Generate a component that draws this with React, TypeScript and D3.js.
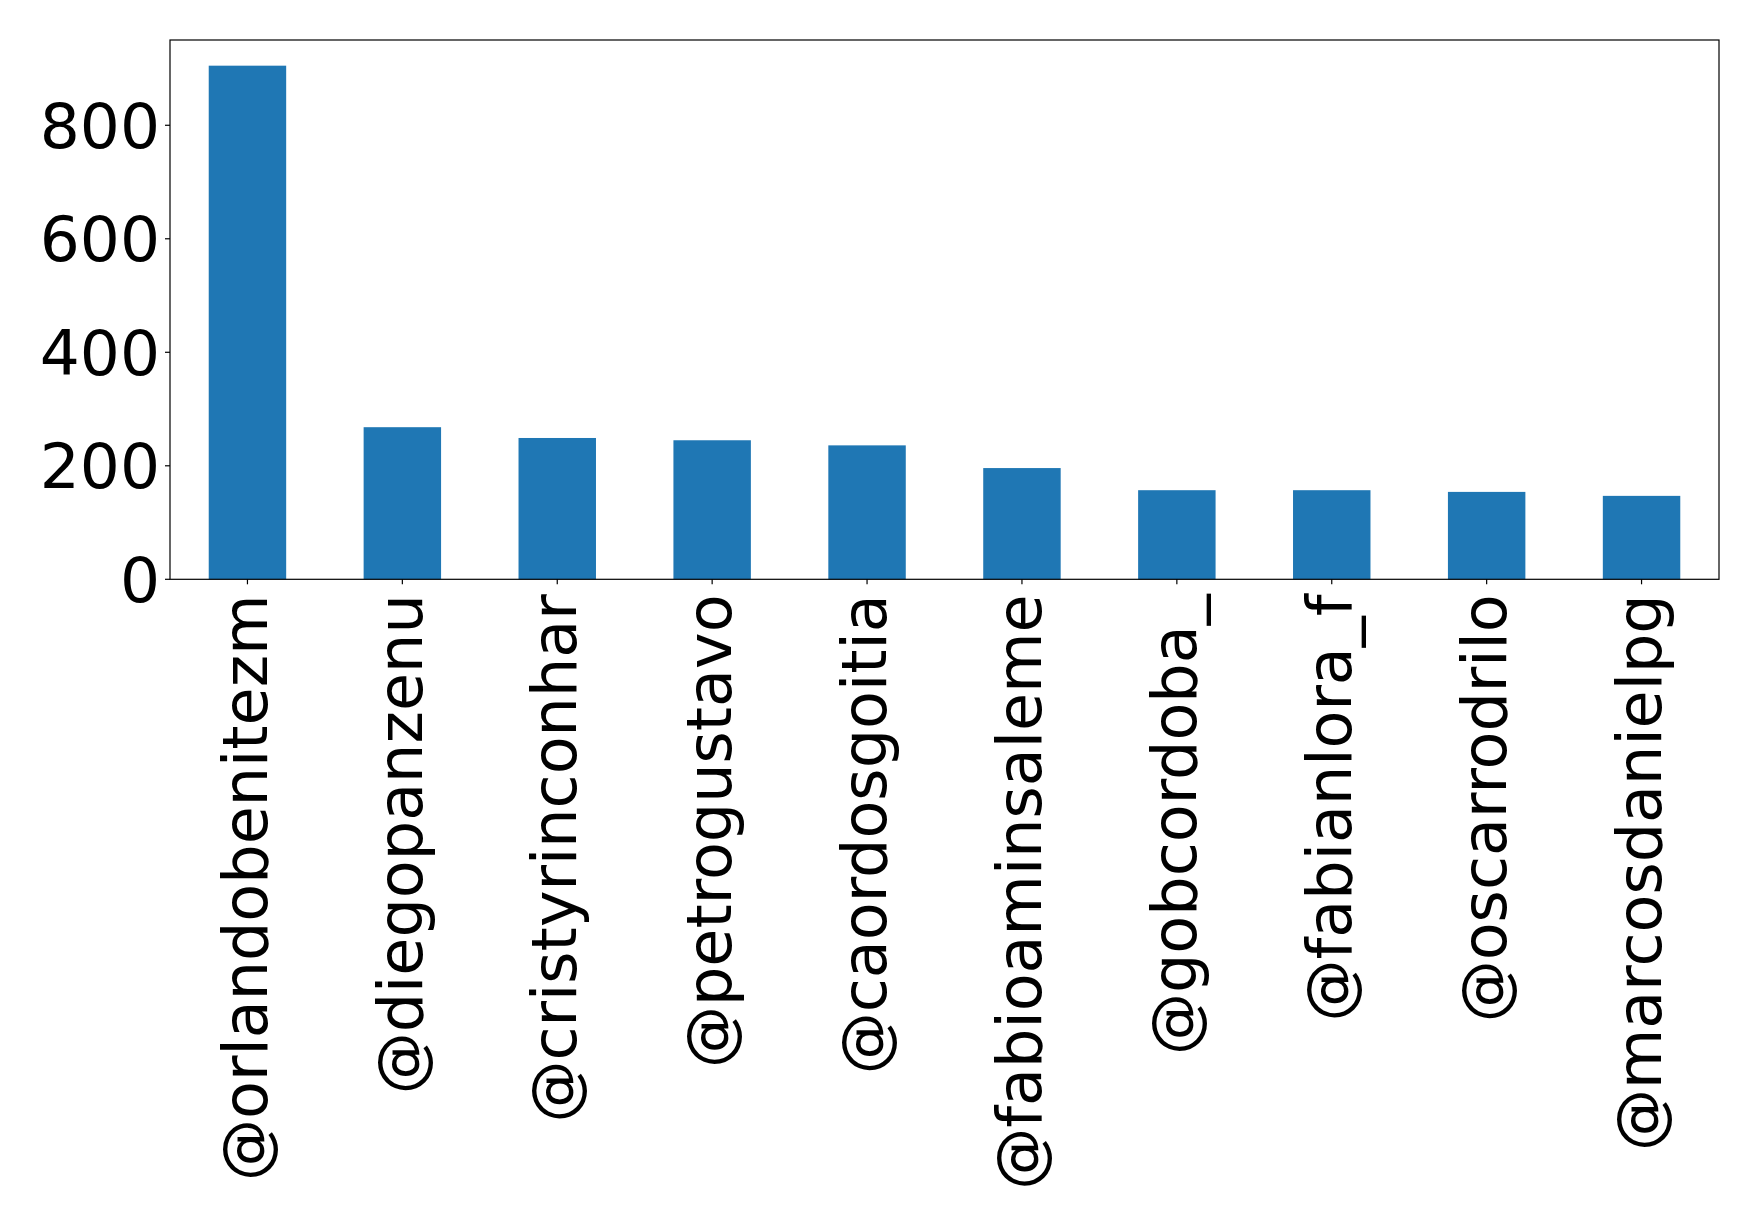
import React from "react";
import * as d3 from "d3";

const categories = [
  "@orlandobenitezm",
  "@diegopanzenu",
  "@cristyrinconhar",
  "@petrogustavo",
  "@caordosgoitia",
  "@fabioaminsaleme",
  "@gobcordoba_",
  "@fabianlora_f",
  "@oscarrodrilo",
  "@marcosdanielpg",
];
const values = [905, 268, 249, 245, 236, 196, 157, 157, 154, 147];
const yTicks = [0, 200, 400, 600, 800];

const W = 1758;
const H = 1228;
const left = 170;
const right = 1719;
const top = 40;
const bottom = 579.3;
const FONT = "DejaVu Sans";
const FSY = 63;
const FSX = 62;

export default function App() {
  const x = d3
    .scaleLinear()
    .domain([-0.5, categories.length - 0.5])
    .range([left, right]);
  const yMax = d3.max(values)! * 1.05;
  const y = d3.scaleLinear().domain([0, yMax]).range([bottom, top]);
  const bw = x(0.25) - x(0);

  return (
    <svg
      width={W}
      height={H}
      style={{ display: "block", position: "absolute", left: 0, top: 0 }}
      fontFamily={FONT}
    >
      <rect x={0} y={0} width={W} height={H} fill="white" />
      {values.map((v, i) => (
        <rect
          key={i}
          x={x(i) - bw}
          y={y(v)}
          width={bw * 2}
          height={y(0) - y(v)}
          fill="#1f77b4"
        />
      ))}
      <rect
        x={left}
        y={top}
        width={right - left}
        height={bottom - top}
        fill="none"
        stroke="black"
        strokeWidth={1.2}
      />
      {yTicks.map((t) => (
        <g key={t}>
          <line x1={left - 5} x2={left} y1={y(t)} y2={y(t)} stroke="black" strokeWidth={1.2} />
          <text
            x={left - 10}
            y={y(t)}
            dy="0.36em"
            textAnchor="end"
            fontSize={FSY}
            fill="black"
          >
            {t}
          </text>
        </g>
      ))}
      {categories.map((c, i) => (
        <g key={c}>
          <line x1={x(i)} x2={x(i)} y1={bottom} y2={bottom + 5} stroke="black" strokeWidth={1.2} />
          <text
            transform={`translate(${x(i)},${bottom + 15}) rotate(-90)`}
            dy="0.31em"
            textAnchor="end"
            fontSize={FSX}
            fill="black"
          >
            {c}
          </text>
        </g>
      ))}
    </svg>
  );
}
